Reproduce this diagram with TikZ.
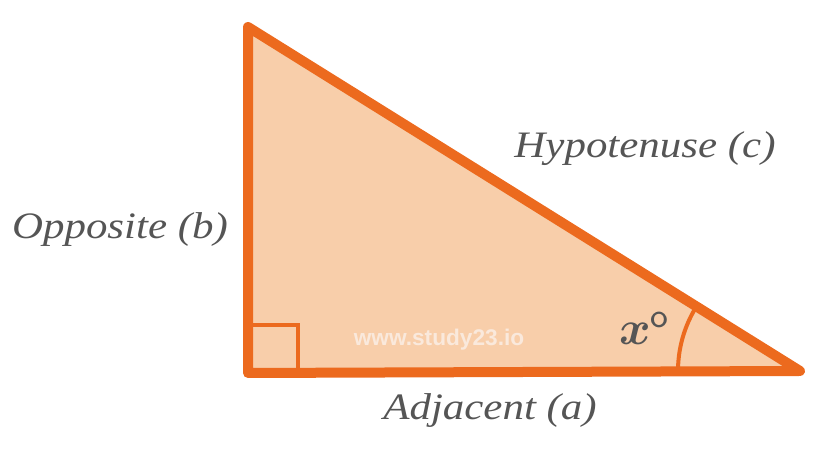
\documentclass[tikz,border=0pt]{standalone}
\usepackage{fontspec}
\usepackage{amsmath}
\setmainfont{Liberation Serif}
\newfontfamily\sidefont{Liberation Serif}[FakeStretch=1.15]
\newfontfamily\markfont{Liberation Sans}
\definecolor{trorange}{RGB}{236, 106, 30}
\definecolor{trfill}{RGB}{248, 206, 170}
\definecolor{trgray}{RGB}{85, 85, 85}
\definecolor{trmark}{RGB}{250, 233, 220}
\tikzset{
  sidelabel/.style={anchor=base, inner sep=0pt, text=trgray,
    font=\sidefont\itshape\fontsize{28}{30}\selectfont},
}

\begin{document}
\begin{tikzpicture}[x=0.75pt, y=0.75pt]
\useasboundingbox (0,0) rectangle (825,449);

% Corners
\coordinate (top) at (248,422);
\coordinate (rightangle) at (248,76);
\coordinate (tip) at (800,78);

% Triangle
\draw[trorange, fill=trfill, line width=7.5pt, line join=round]
  (top) -- (rightangle) -- (tip) -- cycle;

% Right angle mark
\draw[trorange, line width=3pt]
  ([shift={(3,48)}]rightangle) -- ([shift={(50,48)}]rightangle) -- ([shift={(50,3)}]rightangle);

% Angle arc at the tip
\draw[trorange, line width=3pt]
  (tip) ++(180:122) arc[start angle=180, end angle=148, radius=122];

% Side labels
\node[sidelabel] (opposite) at (120,210) {Opposite (b)};
\node[sidelabel] (hypotenuse) at (645,291) {Hypotenuse (c)};
\node[sidelabel] (adjacent) at (490,29) {Adjacent (a)};

% Angle label
\node[anchor=base, inner sep=0pt, text=trgray]
  (angle) at (645,104) {\scalebox{3.6}{$\boldsymbol{x}^{\mathsf{o}}$}};

% Watermark
\node[text=trmark, font=\markfont\bfseries\fontsize{17}{19}\selectfont]
  (mark) at (439,109) {www.study23.io};
\end{tikzpicture}
\end{document}
